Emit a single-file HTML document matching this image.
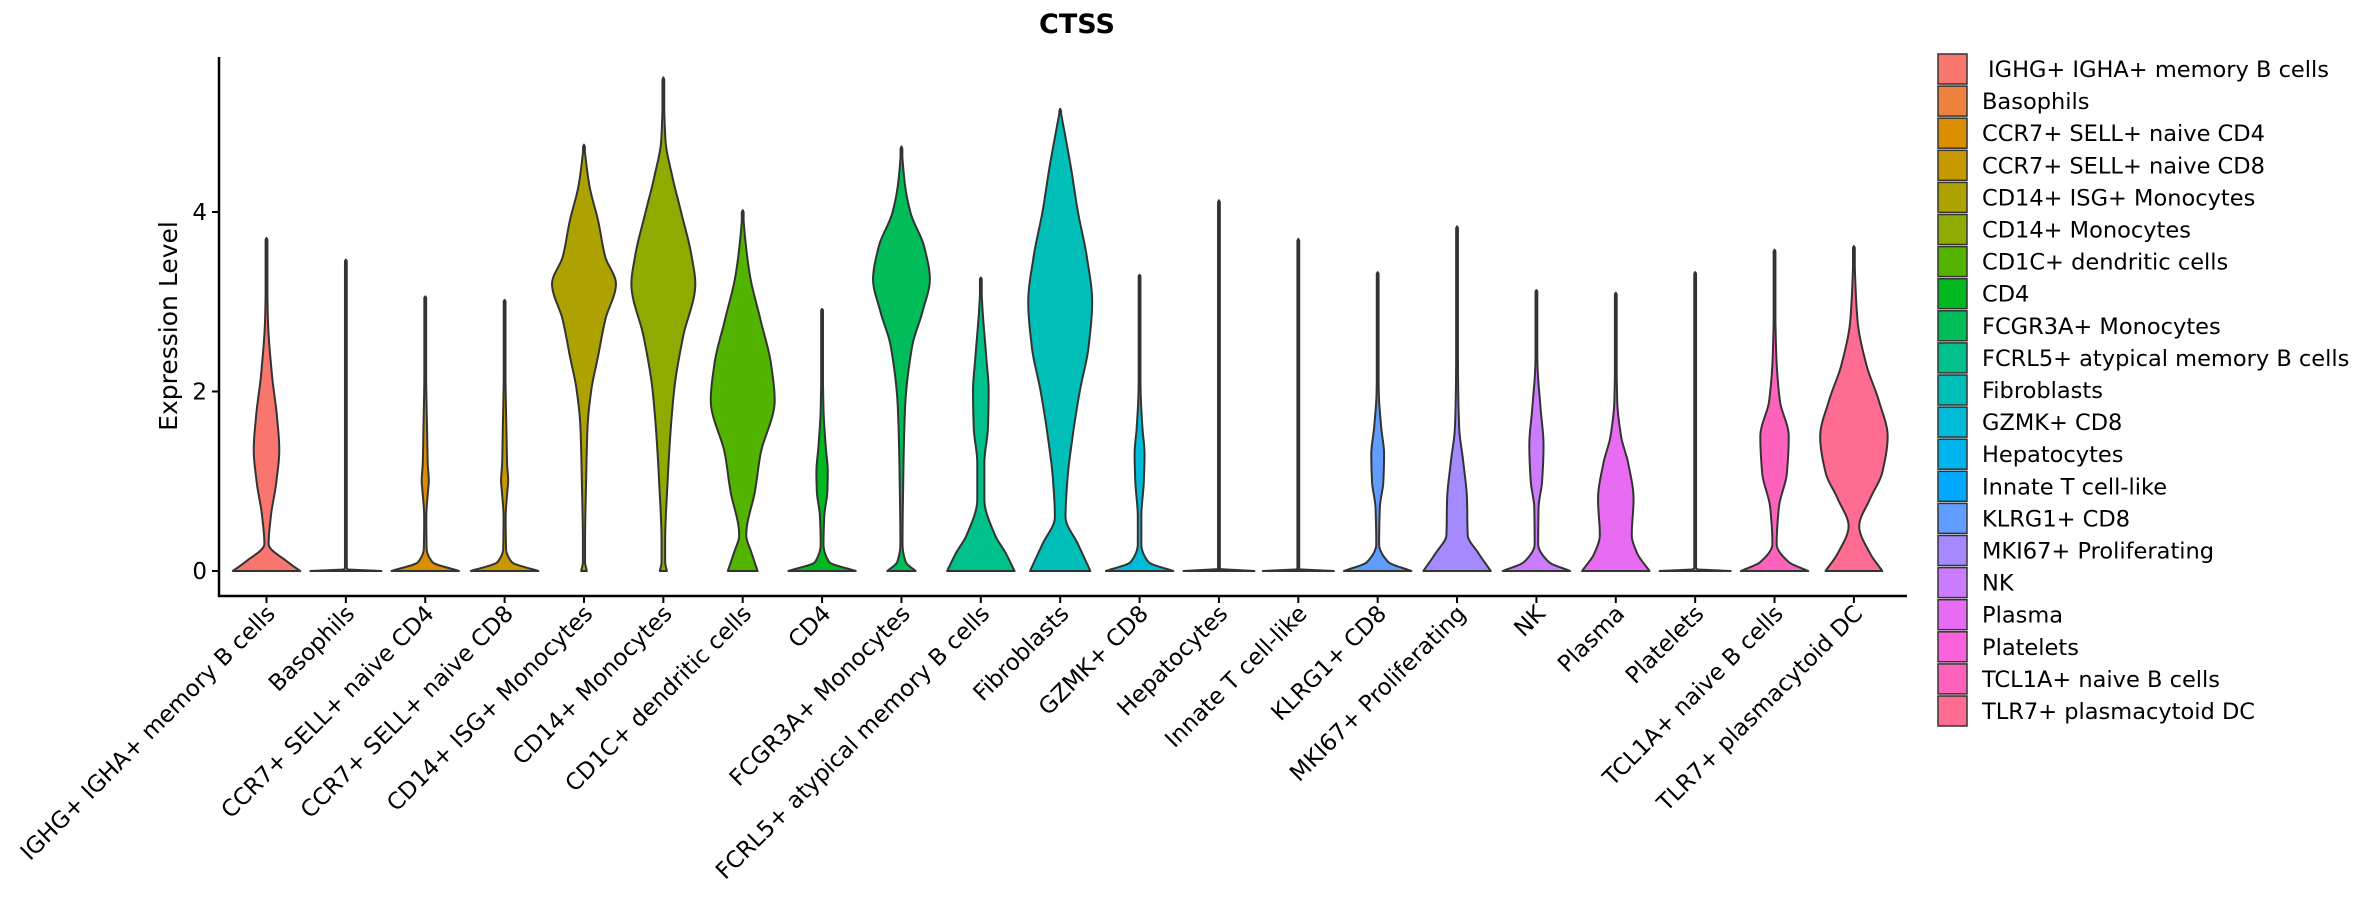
<!DOCTYPE html>
<html><head><meta charset="utf-8">
<style>
html,body{margin:0;padding:0;background:#fff;}
body{width:2362px;height:900px;overflow:hidden;font-family:"DejaVu Sans","Liberation Sans",sans-serif;}
svg text{font-family:"DejaVu Sans","Liberation Sans",sans-serif;}
</style></head>
<body>
<svg id="chart" width="2362" height="900" xmlns="http://www.w3.org/2000/svg">
<text x="1077" y="33" font-size="27" font-weight="bold" text-anchor="middle" fill="#000">CTSS</text>
<g id="plot"></g>
<g id="legend"></g>
</svg>
<script>
const categories=["IGHG+ IGHA+ memory B cells","Basophils","CCR7+ SELL+ naive CD4","CCR7+ SELL+ naive CD8","CD14+ ISG+ Monocytes","CD14+ Monocytes","CD1C+ dendritic cells","CD4","FCGR3A+ Monocytes","FCRL5+ atypical memory B cells","Fibroblasts","GZMK+ CD8","Hepatocytes","Innate T cell-like","KLRG1+ CD8","MKI67+ Proliferating","NK","Plasma","Platelets","TCL1A+ naive B cells","TLR7+ plasmacytoid DC"];
const colors=["#F8766D","#EC823C","#DB8E00","#C79800","#AEA200","#8FAA00","#53B400","#00B81F","#00BC59","#00C08B","#00BFB8","#00BCD8","#00B5EE","#00A9FF","#619CFF","#A58AFF","#CC7CFF","#E76BF3","#FA62DB","#FF62BC","#FF6C91"];
const maxValues=[3.71,3.47,3.06,3.02,4.75,5.5,4.02,2.92,4.73,3.27,5.15,3.3,4.13,3.7,3.33,3.84,3.13,3.1,3.33,3.58,3.62];
// density knots: values (y) and relative half-widths
const knotValues=[
[0,0.1,0.3,0.6,1.0,1.35,1.7,2.2,2.8,3.2],
[0,0.02,0.05],
[0,0.1,0.25,0.6,0.9,1.0,1.2,1.6,2.0],
[0,0.1,0.25,0.6,0.9,1.0,1.2,1.6,2.0],
[0,0.1,0.3,1.0,1.6,2.0,2.4,2.8,3.2,3.5,3.9,4.3],
[0,0.1,0.3,1.0,2.0,2.6,3.2,3.5,4.0,4.4,4.8],
[0,0.2,0.4,0.9,1.3,1.9,2.3,2.8,3.3,3.7],
[0,0.1,0.3,0.6,0.9,1.1,1.4,1.8],
[0,0.1,0.3,1.0,1.8,2.5,2.9,3.25,3.6,4.0,4.3],
[0,0.2,0.4,0.8,1.2,1.6,2.0,2.4,2.9],
[0,0.3,0.6,1.0,1.5,2.0,2.5,3.0,3.5,4.0,4.5],
[0,0.1,0.3,0.6,1.0,1.3,1.6,2.0],
[0,0.02,0.05],
[0,0.02,0.05],
[0,0.1,0.3,0.7,1.0,1.3,1.6,2.0],
[0,0.2,0.4,0.8,1.2,1.6,2.1,2.8],
[0,0.1,0.3,0.7,1.0,1.4,1.8,2.3],
[0,0.2,0.4,0.8,1.2,1.5,1.9],
[0,0.02,0.05],
[0,0.1,0.3,0.7,1.1,1.5,1.9,2.4,2.9],
[0,0.2,0.5,0.8,1.1,1.5,1.9,2.3,2.8]
];
const knotWidths=[
[0.95,0.6,0.06,0.12,0.28,0.36,0.3,0.15,0.04,0.02],
[1.0,0.02,0.02],
[0.95,0.2,0.04,0.03,0.08,0.1,0.07,0.05,0.03],
[0.95,0.2,0.04,0.03,0.08,0.1,0.07,0.05,0.03],
[0.08,0.03,0.03,0.06,0.1,0.2,0.4,0.6,0.9,0.6,0.4,0.15],
[0.1,0.05,0.05,0.12,0.3,0.55,0.9,0.8,0.5,0.25,0.06],
[0.42,0.25,0.1,0.35,0.5,0.9,0.8,0.5,0.2,0.07],
[0.95,0.2,0.04,0.06,0.15,0.16,0.1,0.04],
[0.4,0.12,0.03,0.05,0.1,0.3,0.6,0.8,0.65,0.25,0.1],
[0.95,0.7,0.4,0.1,0.1,0.2,0.22,0.15,0.05],
[0.85,0.5,0.15,0.2,0.35,0.55,0.8,0.9,0.75,0.5,0.3],
[0.95,0.25,0.05,0.05,0.12,0.14,0.08,0.03],
[1.0,0.02,0.02],
[1.0,0.02,0.02],
[0.95,0.3,0.04,0.06,0.16,0.18,0.1,0.03],
[0.95,0.6,0.3,0.28,0.18,0.06,0.03,0.02],
[0.95,0.35,0.05,0.06,0.16,0.2,0.12,0.03],
[0.95,0.6,0.45,0.5,0.35,0.15,0.04],
[1.0,0.02,0.02],
[0.95,0.4,0.06,0.12,0.35,0.4,0.15,0.05,0.02],
[0.8,0.45,0.15,0.45,0.8,0.95,0.7,0.35,0.1]
];
const yTicks=[0,2,4];
const NS="http://www.w3.org/2000/svg";
const x0=266.5, xStep=79.37, halfW=35.5;
function xPos(i){return x0+i*xStep;}
function yPos(v){return 571-v*89.75;}
const plot=document.getElementById('plot');
function mk(tag,attrs){const e=document.createElementNS(NS,tag);for(const k in attrs)e.setAttribute(k,attrs[k]);return e;}
// monotone cubic (PCHIP) interpolation of width profile
function widthAt(i,v){
  const xs=knotValues[i].concat([maxValues[i]]), ys=knotWidths[i].concat([0]);
  const n=xs.length, h=[], dl=[], m=new Array(n).fill(0);
  for(let j=0;j<n-1;j++){h.push(xs[j+1]-xs[j]);dl.push((ys[j+1]-ys[j])/h[j]);}
  m[0]=dl[0];m[n-1]=dl[n-2];
  for(let j=1;j<n-1;j++){
    if(dl[j-1]*dl[j]<=0)m[j]=0;
    else{const w1=2*h[j]+h[j-1],w2=h[j]+2*h[j-1];m[j]=(w1+w2)/(w1/dl[j-1]+w2/dl[j]);}
  }
  for(let j=0;j<n-1;j++){
    if(v>=xs[j]&&v<=xs[j+1]){
      const t=(v-xs[j])/h[j],t2=t*t,t3=t2*t;
      return Math.max(0,(2*t3-3*t2+1)*ys[j]+(t3-2*t2+t)*h[j]*m[j]+(-2*t3+3*t2)*ys[j+1]+(t3-t2)*h[j]*m[j+1]);
    }
  }
  return 0;
}
categories.forEach((c,i)=>{
  const cx=xPos(i), tip=maxValues[i];
  const N=200, L=[], R=[];
  for(let k=0;k<=N;k++){
    const v=tip*k/N;
    let w=widthAt(i,v)*halfW;
    if(k<N) w=Math.max(w,0.9);
    L.push([cx-w,yPos(v)]);R.push([cx+w,yPos(v)]);
  }
  let d="M"+L.map(p=>p[0].toFixed(2)+","+p[1].toFixed(2)).join(" L");
  d+=" L"+R.reverse().map(p=>p[0].toFixed(2)+","+p[1].toFixed(2)).join(" L")+" Z";
  const p=mk('path',{d:d,fill:colors[i],stroke:'#333',"stroke-width":2,"stroke-linejoin":"round"});
  
  
  plot.appendChild(p);
});
// axes
const ya=mk('line',{x1:219,y1:57,x2:219,y2:597,stroke:'#000','stroke-width':2.5});


plot.appendChild(ya);
const xa=mk('line',{x1:218,y1:596,x2:1907,y2:596,stroke:'#000','stroke-width':2.5});


plot.appendChild(xa);
yTicks.forEach(t=>{
  const tk=mk('line',{x1:212,y1:yPos(t),x2:219,y2:yPos(t),stroke:'#000','stroke-width':2});
  
  
  plot.appendChild(tk);
  const lb=mk('text',{x:207,y:yPos(t)+8,'font-size':23,'text-anchor':'end',fill:'#000'});
  lb.textContent=t;
  
  
  plot.appendChild(lb);
});
const yt=mk('text',{x:0,y:0,'font-size':25,'text-anchor':'middle',fill:'#000',transform:'translate(177,326) rotate(-90)'});
yt.textContent='Expression Level';


plot.appendChild(yt);
categories.forEach((c,i)=>{
  const x=xPos(i);
  const tk=mk('line',{x1:x,y1:596,x2:x,y2:603,stroke:'#000','stroke-width':2});
  
  
  plot.appendChild(tk);
  const lb=mk('text',{x:0,y:0,'font-size':23,'text-anchor':'end',fill:'#000',transform:'translate('+(x+10)+',615) rotate(-45)'});
  lb.textContent=c;
  
  
  plot.appendChild(lb);
});
// legend
const lg=document.getElementById('legend');
categories.forEach((c,i)=>{
  const y=54+i*32.1;
  const r=mk('rect',{x:1938,y:y,width:29,height:30,fill:colors[i],stroke:'#333','stroke-width':1.5});
  
  
  lg.appendChild(r);
  const t=mk('text',{x:i===0?1988:1982,y:y+23,'font-size':22.5,fill:'#000'});
  t.textContent=c;
  
  
  lg.appendChild(t);
});
</script>
</body></html>
